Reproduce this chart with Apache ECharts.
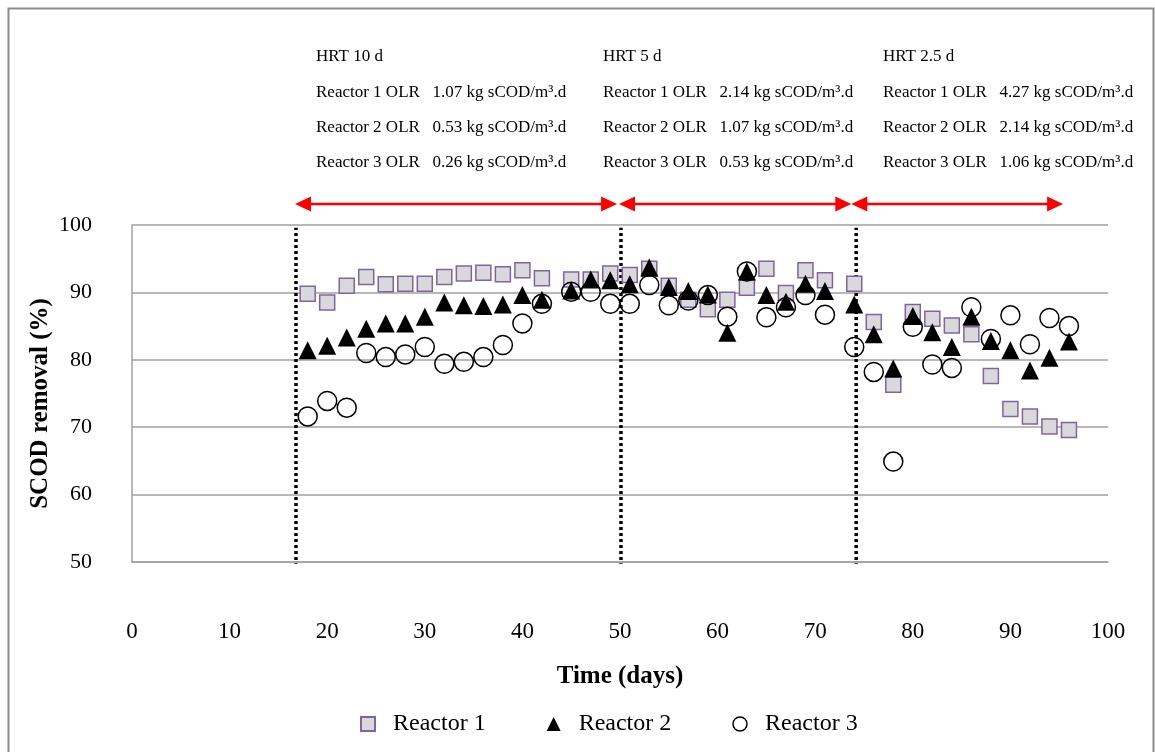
<!DOCTYPE html>
<html>
<head>
<meta charset="utf-8">
<script src="https://cdn.jsdelivr.net/npm/echarts@6/dist/echarts.min.js"></script>
<style>
  html, body {margin: 0; padding: 0; background: #fff;}
  #main {width: 1155px; height: 752px;}
</style>
</head>
<body>
<div id="main"></div>
<script>
// sampling days
var days = [18, 20, 22, 24, 26, 28, 30, 32, 34, 36, 38, 40, 42, 45, 47, 49, 51, 53, 55, 57, 59, 61, 63, 65, 67, 69, 71, 74, 76, 78, 80, 82, 84, 86, 88, 90, 92, 94, 96];

var reactor1 = [89.8, 88.5, 91.0, 92.3, 91.2, 91.3, 91.3, 92.3, 92.8, 92.9, 92.7, 93.3, 92.1, 91.9, 91.9, 92.8, 92.6, 93.5, 91.0, 88.9, 87.5, 88.9, 90.7, 93.5, 89.9, 93.3, 91.8, 91.3, 85.6, 76.3, 87.1, 86.1, 85.1, 83.8, 77.6, 72.7, 71.6, 70.1, 69.6];
var reactor2 = [81.4, 82.1, 83.3, 84.6, 85.4, 85.4, 86.4, 88.5, 88.1, 88.0, 88.2, 89.6, 88.9, 90.3, 91.9, 91.8, 91.2, 93.7, 90.8, 90.2, 89.7, 84.0, 93.1, 89.6, 88.6, 91.3, 90.2, 88.2, 83.8, 78.7, 86.5, 84.1, 81.9, 86.4, 82.8, 81.4, 78.4, 80.3, 82.7];
var reactor3 = [71.6, 73.9, 72.9, 81.0, 80.4, 80.8, 81.9, 79.4, 79.7, 80.4, 82.2, 85.4, 88.3, 90.1, 90.1, 88.3, 88.3, 91.1, 88.1, 88.8, 89.6, 86.4, 93.1, 86.3, 87.8, 89.6, 86.7, 81.9, 78.2, 64.9, 84.9, 79.3, 78.8, 87.8, 83.1, 86.6, 82.3, 86.2, 85.0];

// phase boundaries (days) and arrow spans
var boundaries = [16.8, 50.1, 74.2];
var arrowSpans = [[16.7, 49.7], [49.9, 73.7], [73.7, 95.4]];
var arrowLevel = 103.1;

var phaseText = [
    ["HRT 10 d", "Reactor 1 OLR   1.07 kg sCOD/m³.d", "Reactor 2 OLR   0.53 kg sCOD/m³.d", "Reactor 3 OLR   0.26 kg sCOD/m³.d"],
    ["HRT 5 d", "Reactor 1 OLR   2.14 kg sCOD/m³.d", "Reactor 2 OLR   1.07 kg sCOD/m³.d", "Reactor 3 OLR   0.53 kg sCOD/m³.d"],
    ["HRT 2.5 d", "Reactor 1 OLR   4.27 kg sCOD/m³.d", "Reactor 2 OLR   2.14 kg sCOD/m³.d", "Reactor 3 OLR   1.06 kg sCOD/m³.d"]
];
var phaseTextX = [316, 603, 883];
var phaseLineY = [55, 91, 126, 161];

function pairs(ys) {
    return days.map(function (d, i) { return [d, ys[i]]; });
}

var font = "'Liberation Serif', 'Times New Roman', serif";
var chart = echarts.init(document.getElementById("main"));

var texts = [];
phaseText.forEach(function (block, b) {
    block.forEach(function (line, k) {
        texts.push({
            type: "text",
            left: phaseTextX[b],
            top: phaseLineY[k] - 7,
            style: {text: line, font: "17px " + font, fill: "#000"}
        });
    });
});
texts.push({
    type: "rect",
    shape: {x: 8.5, y: 8.5, width: 1145, height: 760},
    style: {fill: "none", stroke: "#8c8c8c", lineWidth: 2},
    silent: true
});

var dotted = boundaries.map(function (b) {
    return {
        type: "line",
        data: [[b, 49.4], [b, 99.6]],
        symbol: "none",
        silent: true,
        lineStyle: {color: "#000", width: 3.5, type: [3, 3]},
        z: 1
    };
});

var option = {
    animation: false,
    textStyle: {fontFamily: font},
    grid: {left: 132, right: 47, top: 225, bottom: 190},
    graphic: texts,
    legend: {
        left: 355,
        top: 707,
        itemWidth: 14,
        itemHeight: 14,
        itemGap: 61,
        textStyle: {fontSize: 24, fontFamily: font, color: "#000", padding: [0, 0, 0, 13]},
        data: [
            {name: "Reactor 1"},
            {name: "Reactor 2"},
            {name: "Reactor 3", itemStyle: {color: "#fff", borderColor: "#000", borderWidth: 1.5}}
        ]
    },
    xAxis: {
        type: "value",
        min: 0,
        max: 100,
        interval: 10,
        name: "Time (days)",
        nameLocation: "middle",
        nameGap: 102,
        nameMoveOverlap: false,
        nameTextStyle: {fontSize: 25, fontWeight: "bold", fontFamily: font, color: "#000"},
        axisLine: {show: true, lineStyle: {color: "#a0a0a0", width: 1.5}},
        axisTick: {show: false},
        splitLine: {show: false},
        axisLabel: {margin: 58, fontSize: 23, fontFamily: font, color: "#000"}
    },
    yAxis: {
        type: "value",
        min: 50,
        max: 100,
        interval: 10,
        name: "SCOD removal (%)",
        nameLocation: "middle",
        nameGap: 79,
        nameMoveOverlap: false,
        nameRotate: 90,
        nameTextStyle: {fontSize: 25, fontWeight: "bold", fontFamily: font, color: "#000", padding: [0, 20, 0, 0]},
        axisLine: {show: true, lineStyle: {color: "#a0a0a0", width: 1.5}},
        axisTick: {show: false},
        splitLine: {show: true, lineStyle: {color: "#a0a0a0", width: 1.5}},
        axisLabel: {margin: 40, fontSize: 22, fontFamily: font, color: "#000"}
    },
    series: dotted.concat([
        {
            name: "Reactor 1",
            type: "scatter",
            symbol: "rect",
            symbolSize: 15,
            itemStyle: {color: "#d9d9d9", borderColor: "#8064a2", borderWidth: 1.5, opacity: 1},
            data: pairs(reactor1),
            z: 3
        },
        {
            name: "Reactor 2",
            type: "scatter",
            symbol: "triangle",
            symbolSize: 18,
            itemStyle: {color: "#000", opacity: 1},
            data: pairs(reactor2),
            z: 4
        },
        {
            name: "Reactor 3",
            type: "scatter",
            symbol: "circle",
            symbolSize: 19,
            itemStyle: {color: "rgba(255,255,255,0)", borderColor: "#000", borderWidth: 1.5, opacity: 1},
            data: pairs(reactor3),
            z: 5
        }
    ])
};

chart.setOption(option);

// red double arrows above the plot, placed through the grid's own scales
var arrows = [];
arrowSpans.forEach(function (s) {
    var a = chart.convertToPixel({gridIndex: 0}, [s[0], arrowLevel]);
    var b = chart.convertToPixel({gridIndex: 0}, [s[1], arrowLevel]);
    var head = 16, half = 7.5;
    arrows.push({
        type: "line",
        shape: {x1: a[0] + head - 2, y1: a[1], x2: b[0] - head + 2, y2: b[1]},
        style: {stroke: "#ff0000", lineWidth: 2.5},
        silent: true
    });
    arrows.push({
        type: "polygon",
        shape: {points: [[a[0], a[1]], [a[0] + head, a[1] - half], [a[0] + head, a[1] + half]]},
        style: {fill: "#ff0000"},
        silent: true
    });
    arrows.push({
        type: "polygon",
        shape: {points: [[b[0], b[1]], [b[0] - head, b[1] - half], [b[0] - head, b[1] + half]]},
        style: {fill: "#ff0000"},
        silent: true
    });
});
chart.setOption({graphic: texts.concat(arrows)});
</script>
</body>
</html>
